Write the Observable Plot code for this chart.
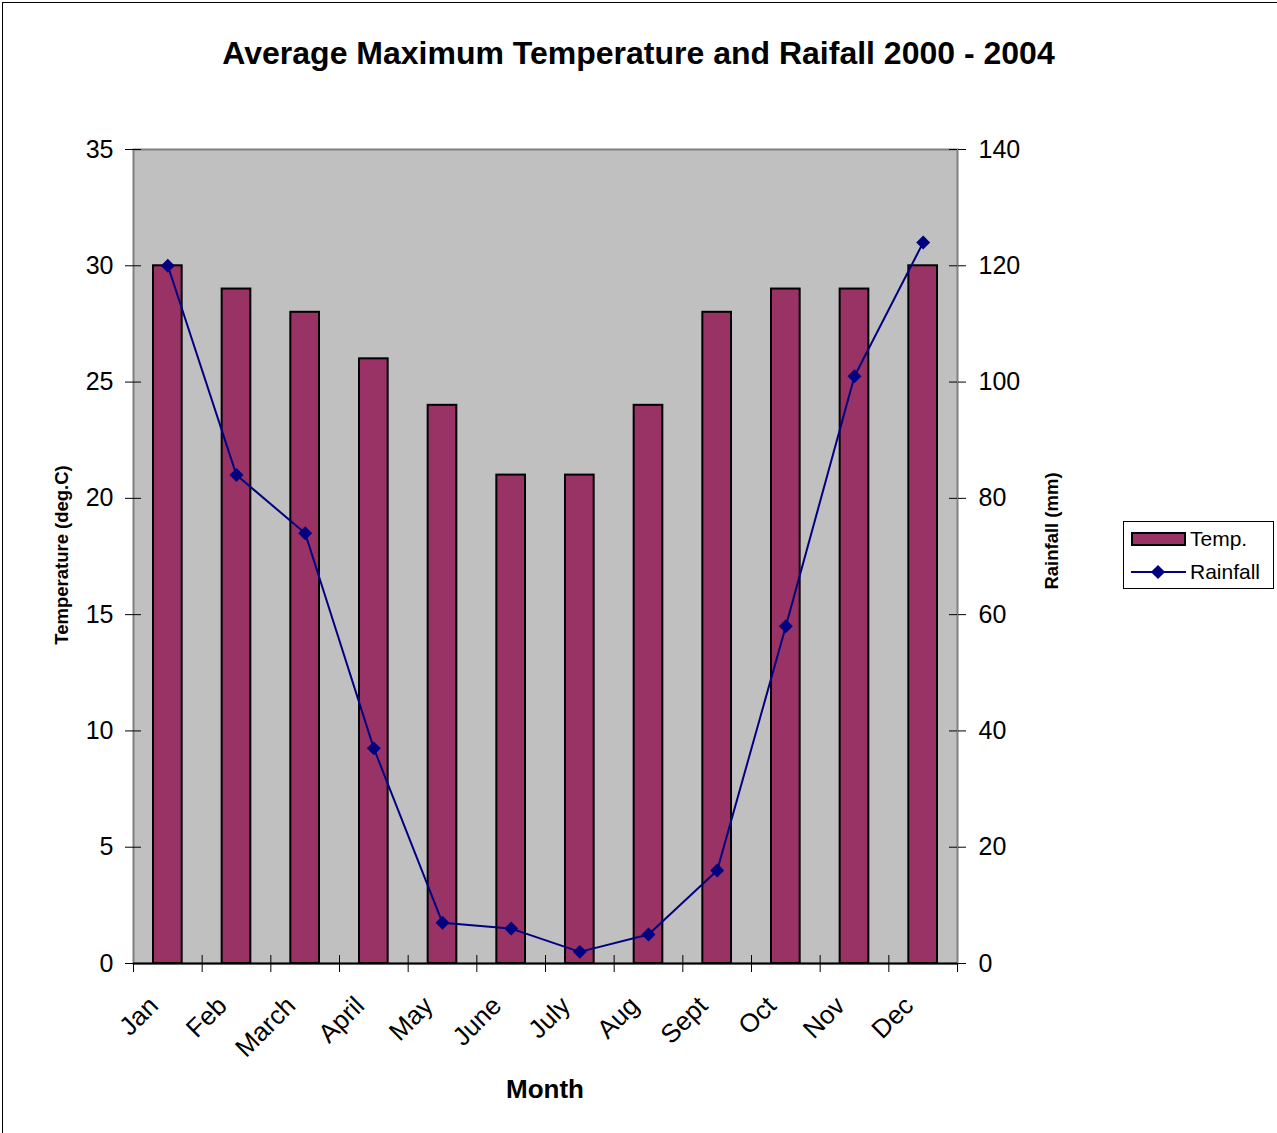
<!DOCTYPE html>
<html>
<head>
<meta charset="utf-8">
<script src="https://cdn.jsdelivr.net/npm/d3@7"></script>
<script src="https://cdn.jsdelivr.net/npm/@observablehq/plot@0.6"></script>
<style>
  body { margin: 0; background: white; font-family: "Liberation Sans", Arial, sans-serif; }
  #wrap { position: relative; width: 1277px; height: 1133px; overflow: hidden; }
  #border { position: absolute; left: 2px; top: 2px; width: 1280px; height: 1140px; border: 1px solid black; box-sizing: border-box; }
  #title { position: absolute; left: 0; width: 1277px; top: 34px; text-align: center; font-weight: bold; font-size: 32px; line-height: 38px; }
  .abs { position: absolute; white-space: nowrap; }
  #xtitle { left: 445px; width: 200px; top: 1074px; text-align: center; font-weight: bold; font-size: 26px; line-height: 30px; }
  #ytitle { left: 62px; top: 555px; font-weight: bold; font-size: 18.5px; transform: translate(-50%, -50%) rotate(-90deg); line-height: 22px; }
  #y2title { left: 1052px; top: 531px; font-weight: bold; font-size: 18.5px; transform: translate(-50%, -50%) rotate(-90deg); line-height: 22px; }
  #legend { left: 1123px; top: 521px; width: 151px; height: 68px; border: 1px solid black; box-sizing: border-box; background: white; }
  .ltext { position: absolute; left: 66px; font-size: 21px; line-height: 24px; }
  #sw1 { position: absolute; left: 7px; top: 10px; width: 55px; height: 14px; background: #993366; border: 2px solid black; box-sizing: border-box; }
  #sw2 { position: absolute; left: 7px; top: 49px; width: 55px; height: 2px; background: #000080; }
  #dia { position: absolute; left: 29px; top: 45px; width: 10px; height: 10px; background: #000080; transform: rotate(45deg); }
  #chart { position: absolute; left: 0; top: 0; }
</style>
</head>
<body>
<div id="wrap">
  <div id="chart"></div>
  <div id="border"></div>
  <div id="title">Average Maximum Temperature and Raifall 2000 - 2004</div>
  <div id="xtitle" class="abs">Month</div>
  <div id="ytitle" class="abs">Temperature (deg.C)</div>
  <div id="y2title" class="abs">Rainfall (mm)</div>
  <div id="legend" class="abs">
    <div id="sw1"></div><div class="ltext" style="top:5px">Temp.</div>
    <div id="sw2"></div><div id="dia"></div><div class="ltext" style="top:38px">Rainfall</div>
  </div>
</div>
<script>
const months = ["Jan","Feb","March","April","May","June","July","Aug","Sept","Oct","Nov","Dec"];
const temperature = [30,29,28,26,24,21,21,24,28,29,29,30];
const rainfall = [120,84,74,37,7,6,2,5,16,58,101,124];
const tempTicks = [0,5,10,15,20,25,30,35];
const rainMax = 140;
const tempMax = 35;

const data = months.map((m, i) => ({month: m, temp: temperature[i], rain: rainfall[i]}));
const toTemp = r => r * tempMax / rainMax;

const W = 1277, H = 1133, ML = 133, MR = 320, MT = 149, MB = 170;
const plotW = W - ML - MR, plotH = H - MT - MB;
const bw = plotW / months.length;

const chart = Plot.plot({
  width: W, height: H,
  marginLeft: ML, marginRight: MR, marginTop: MT, marginBottom: MB,
  style: {fontFamily: "'Liberation Sans', Arial, sans-serif", fontSize: "25px", background: "transparent", color: "black"},
  x: {type: "band", domain: months, padding: 0, round: false, axis: null, label: null},
  y: {domain: [0, tempMax], axis: null, label: null},
  marks: [
    Plot.frame({fill: "#c0c0c0", stroke: "#808080", strokeWidth: 2}),
    Plot.barY(data, {x: "month", y: "temp", fill: "#993366", stroke: "black", strokeWidth: 2, insetLeft: 20, insetRight: 20}),
    Plot.line(data, {x: "month", y: d => toTemp(d.rain), stroke: "#000080", strokeWidth: 2}),
    Plot.dot(data, {x: "month", y: d => toTemp(d.rain), symbol: "diamond2", r: 6.3, fill: "#000080", stroke: "none"}),
    Plot.ruleY([0], {stroke: "black", strokeWidth: 2}),
    // left axis
    Plot.axisY({ticks: tempTicks, anchor: "left", label: null, tickSize: 8, tickPadding: 12, fontSize: 25, stroke: "black"}),
    Plot.tickY(tempTicks, {y: d => d, insetRight: plotW - 8, stroke: "black"}),
    // right axis (rainfall)
    Plot.axisY({ticks: tempTicks, anchor: "right", label: null, tickSize: 8, tickPadding: 13, fontSize: 25, tickFormat: d => d * rainMax / tempMax, stroke: "black"}),
    Plot.tickY(tempTicks, {y: d => d, insetLeft: plotW - 8, stroke: "black"}),
    // x ticks at band boundaries
    Plot.axisX({ticks: months, anchor: "bottom", label: null, tickSize: 9, dx: -bw / 2, tickFormat: () => "", stroke: "black"}),
    Plot.axisX({ticks: [months[months.length - 1]], anchor: "bottom", label: null, tickSize: 9, dx: bw / 2, tickFormat: () => "", stroke: "black"}),
    Plot.ruleX(months.slice(1), {x: d => d, dx: -bw / 2, insetTop: plotH - 8, stroke: "black"}),
    // month labels
    Plot.axisX({ticks: months, anchor: "bottom", label: null, tickSize: 0, tickPadding: 22, tickRotate: -45, textAnchor: "end", fontSize: 26, dx: -14, dy: 16})
  ]
});
document.getElementById("chart").appendChild(chart);
</script>
</body>
</html>
